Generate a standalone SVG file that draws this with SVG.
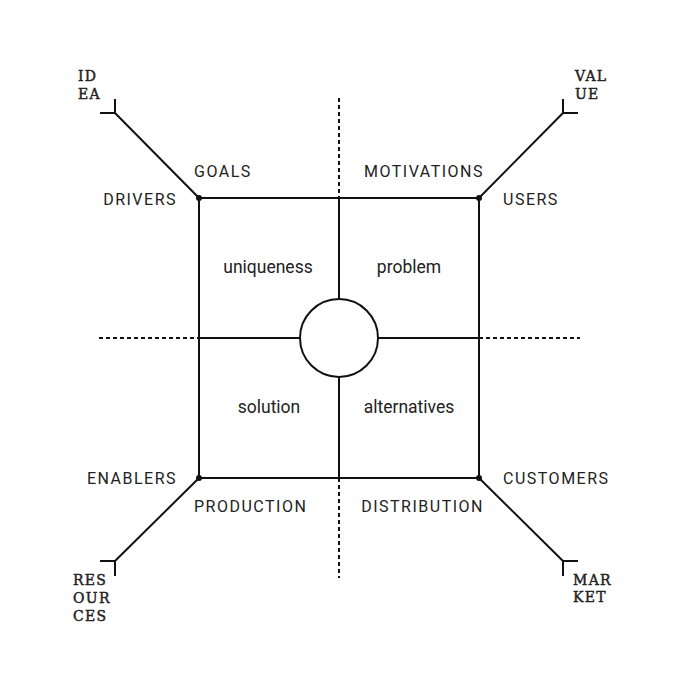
<svg xmlns="http://www.w3.org/2000/svg" width="676" height="676" viewBox="0 0 676 676">
<style>
.ln{stroke:#111;stroke-width:2;fill:none}
.dash{stroke:#111;stroke-width:2;fill:none;stroke-dasharray:4 3}
.lbl{font-family:Roboto,"Liberation Sans",sans-serif;font-size:16px;letter-spacing:1.5px;fill:#222}
.in{font-family:Roboto,"Liberation Sans",sans-serif;font-size:17.5px;fill:#222;text-anchor:middle}
.cr{font-family:"DejaVu Serif","Liberation Serif",serif;font-size:14px;letter-spacing:1.3px;fill:#222;stroke:#222;stroke-width:0.45}
.dot{fill:#111}
</style>
<rect width="676" height="676" fill="#fff"/>
<g id="connectors">
<line class="dash" x1="339" y1="98" x2="339" y2="198"/>
<line class="dash" x1="339" y1="478" x2="339" y2="578"/>
<line class="dash" x1="99" y1="338" x2="199" y2="338"/>
<line class="dash" x1="479" y1="338" x2="580" y2="338"/>
<line class="ln" x1="339" y1="198" x2="339" y2="299"/>
<line class="ln" x1="339" y1="377" x2="339" y2="478"/>
<line class="ln" x1="199" y1="338" x2="300" y2="338"/>
<line class="ln" x1="378" y1="338" x2="479" y2="338"/>
<line class="ln" x1="199" y1="198" x2="115" y2="113"/>
<polyline class="ln" points="100,113 115,113 115,99"/>
<line class="ln" x1="479" y1="198" x2="563" y2="113"/>
<polyline class="ln" points="578,113 563,113 563,99"/>
<line class="ln" x1="199" y1="478" x2="115" y2="561"/>
<polyline class="ln" points="100,561 115,561 115,576"/>
<line class="ln" x1="479" y1="478" x2="563" y2="561"/>
<polyline class="ln" points="578,561 563,561 563,576"/>
</g>
<g id="square">
<rect class="ln" x="199" y="198" width="280" height="280"/>
<circle class="dot" cx="199" cy="198" r="3"/>
<circle class="dot" cx="479" cy="198" r="3"/>
<circle class="dot" cx="199" cy="478" r="3"/>
<circle class="dot" cx="479" cy="478" r="3"/>
</g>
<g id="center">
<circle class="ln" cx="339" cy="338" r="39"/>
</g>
<g id="labels">
<text class="lbl" x="194" y="177">GOALS</text>
<text class="lbl" x="484" y="177" text-anchor="end">MOTIVATIONS</text>
<text class="lbl" x="177" y="205" text-anchor="end">DRIVERS</text>
<text class="lbl" x="503" y="205">USERS</text>
<text class="lbl" x="177" y="484" text-anchor="end">ENABLERS</text>
<text class="lbl" x="503" y="484">CUSTOMERS</text>
<text class="lbl" x="194" y="512">PRODUCTION</text>
<text class="lbl" x="484" y="512" text-anchor="end">DISTRIBUTION</text>
</g>
<g id="quadrants">
<text class="in" x="268" y="273">uniqueness</text>
<text class="in" x="409" y="273">problem</text>
<text class="in" x="269" y="413">solution</text>
<text class="in" x="409" y="413">alternatives</text>
</g>
<g id="idea"><text class="cr" x="78" y="81">ID</text><text class="cr" x="78" y="98.5">EA</text></g>
<g id="value"><text class="cr" x="575" y="81">VAL</text><text class="cr" x="575" y="98.5">UE</text></g>
<g id="resources"><text class="cr" x="73" y="585">RES</text><text class="cr" x="73" y="603">OUR</text><text class="cr" x="73" y="621">CES</text></g>
<g id="market"><text class="cr" x="573" y="585">MAR</text><text class="cr" x="573" y="602">KET</text></g>
</svg>
